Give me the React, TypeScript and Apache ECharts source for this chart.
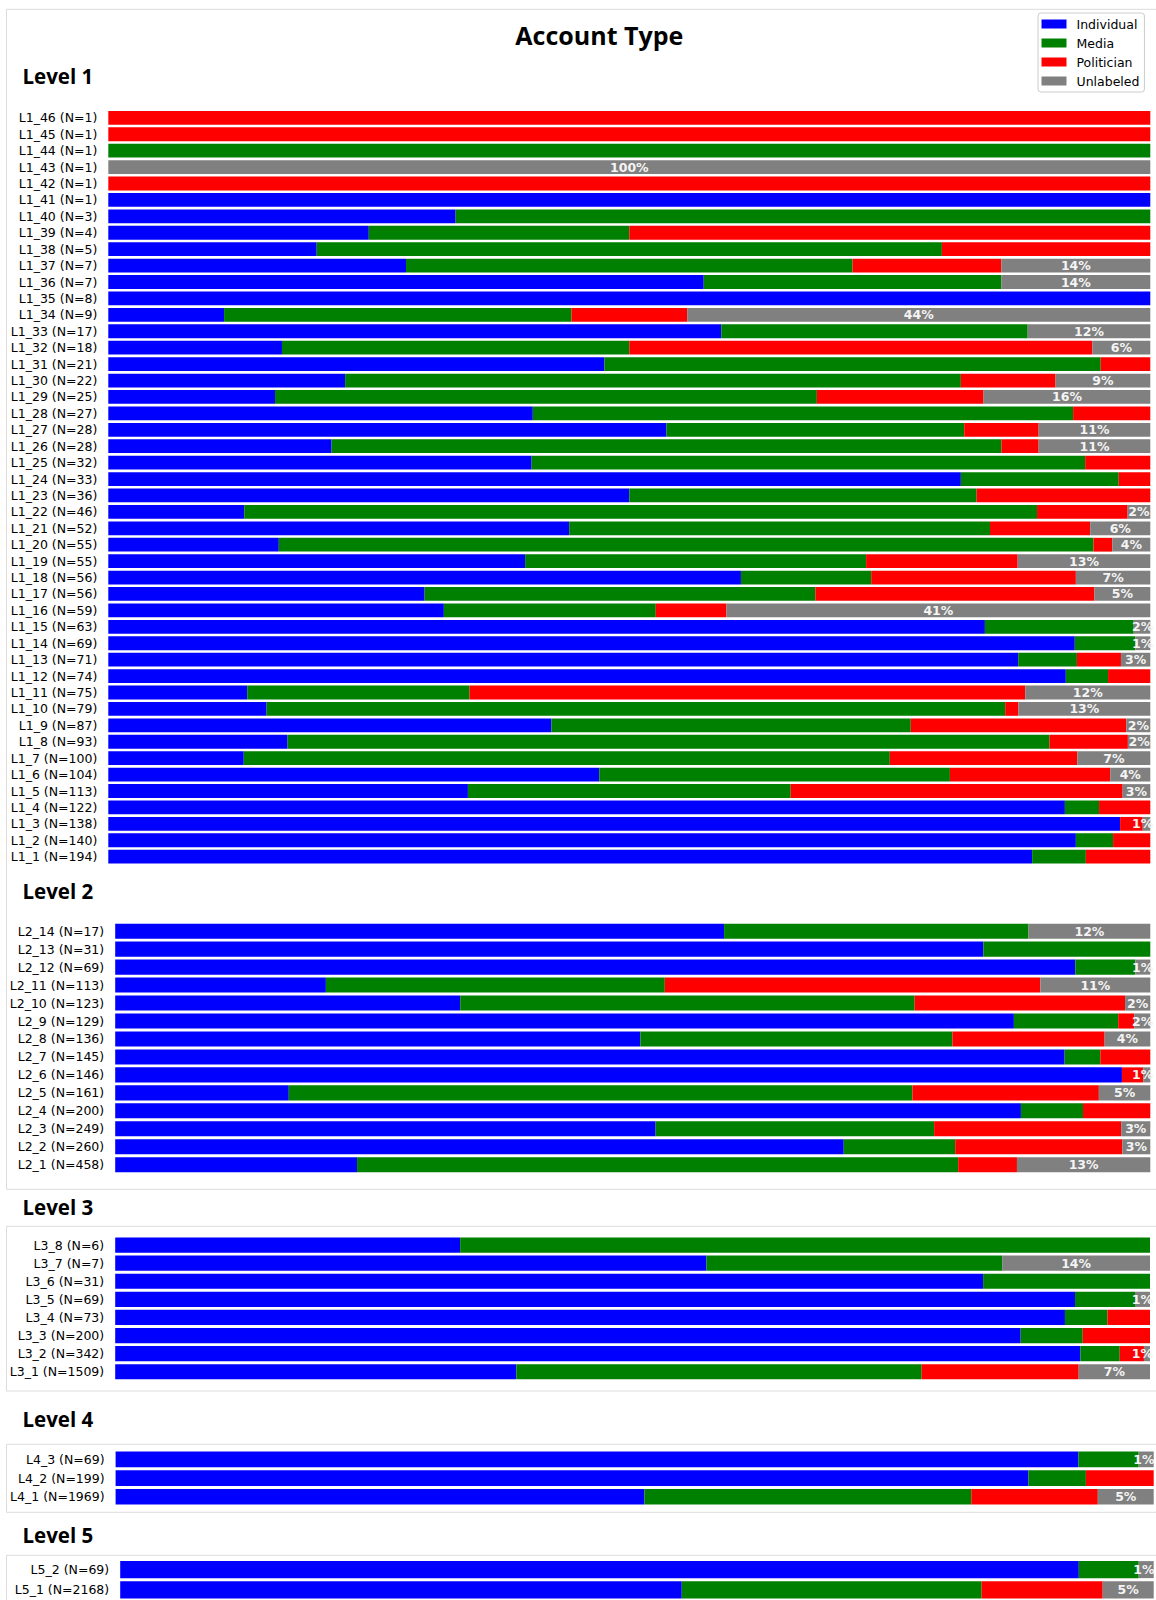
import React, { useEffect, useRef } from "react";
import * as echarts from "echarts";

const SERIES_NAMES = ["Individual", "Media", "Politician", "Unlabeled"];
const SERIES_COLORS = ["#0000ff", "#008000", "#ff0000", "#808080"];
const LEVEL_TITLES = ["Level 1", "Level 2", "Level 3", "Level 4", "Level 5"];

// ---------- Level 1 (top to bottom) ----------
const L1_GROUPS = ["L1_46","L1_45","L1_44","L1_43","L1_42","L1_41","L1_40","L1_39","L1_38","L1_37","L1_36","L1_35","L1_34","L1_33","L1_32","L1_31","L1_30","L1_29","L1_28","L1_27","L1_26","L1_25","L1_24","L1_23","L1_22","L1_21","L1_20","L1_19","L1_18","L1_17","L1_16","L1_15","L1_14","L1_13","L1_12","L1_11","L1_10","L1_9","L1_8","L1_7","L1_6","L1_5","L1_4","L1_3","L1_2","L1_1"];
const L1_N = [1,1,1,1,1,1,3,4,5,7,7,8,9,17,18,21,22,25,27,28,28,32,33,36,46,52,55,55,56,56,59,63,69,71,74,75,79,87,93,100,104,113,122,138,140,194];
const L1_INDIVIDUAL = [0,0,0,0,0,1,1,1,1,2,4,8,1,10,3,10,5,4,11,15,6,13,27,18,6,23,9,22,34,17,19,53,64,62,68,10,12,37,16,13,49,39,112,134,130,172];
const L1_MEDIA = [0,0,1,0,0,0,2,1,3,3,2,0,3,5,6,10,13,13,14,8,18,17,5,12,35,21,43,18,7,21,12,9,4,4,3,16,56,30,68,62,35,35,4,0,5,10];
const L1_POLITICIAN = [1,1,0,0,1,0,0,2,1,1,0,0,1,0,8,1,2,4,2,2,1,2,1,6,4,5,1,8,11,15,4,0,0,3,3,40,1,18,7,18,16,36,6,3,5,12];
const L1_UNLABELED = [0,0,0,1,0,0,0,0,0,1,1,0,4,2,1,0,2,4,0,3,3,0,0,0,1,3,2,7,4,3,24,1,1,2,0,9,10,2,2,7,4,3,0,1,0,0];

// ---------- Level 2 ----------
const L2_GROUPS = ["L2_14","L2_13","L2_12","L2_11","L2_10","L2_9","L2_8","L2_7","L2_6","L2_5","L2_4","L2_3","L2_2","L2_1"];
const L2_N = [17,31,69,113,123,129,136,145,146,161,200,249,260,458];
const L2_INDIVIDUAL = [10,26,64,23,41,112,69,133,142,27,175,130,183,107];
const L2_MEDIA = [5,5,4,37,54,13,41,5,0,97,12,67,28,266];
const L2_POLITICIAN = [0,0,0,41,25,2,20,7,3,29,13,45,42,26];
const L2_UNLABELED = [2,0,1,12,3,2,6,0,1,8,0,7,7,59];

// ---------- Level 3 ----------
const L3_GROUPS = ["L3_8","L3_7","L3_6","L3_5","L3_4","L3_3","L3_2","L3_1"];
const L3_N = [6,7,31,69,73,200,342,1509];
const L3_INDIVIDUAL = [2,4,26,64,67,175,319,585];
const L3_MEDIA = [4,2,5,4,3,12,13,591];
const L3_POLITICIAN = [0,0,0,0,3,13,8,229];
const L3_UNLABELED = [0,1,0,1,0,0,2,104];

// ---------- Level 4 ----------
const L4_GROUPS = ["L4_3","L4_2","L4_1"];
const L4_N = [69,199,1969];
const L4_INDIVIDUAL = [64,175,1003];
const L4_MEDIA = [4,11,620];
const L4_POLITICIAN = [0,13,240];
const L4_UNLABELED = [1,0,106];

// ---------- Level 5 ----------
const L5_GROUPS = ["L5_2","L5_1"];
const L5_N = [69,2168];
const L5_INDIVIDUAL = [64,1178];
const L5_MEDIA = [4,629];
const L5_POLITICIAN = [0,254];
const L5_UNLABELED = [1,107];

const LEVELS = [
  { groups: L1_GROUPS, n: L1_N, parts: [L1_INDIVIDUAL, L1_MEDIA, L1_POLITICIAN, L1_UNLABELED] },
  { groups: L2_GROUPS, n: L2_N, parts: [L2_INDIVIDUAL, L2_MEDIA, L2_POLITICIAN, L2_UNLABELED] },
  { groups: L3_GROUPS, n: L3_N, parts: [L3_INDIVIDUAL, L3_MEDIA, L3_POLITICIAN, L3_UNLABELED] },
  { groups: L4_GROUPS, n: L4_N, parts: [L4_INDIVIDUAL, L4_MEDIA, L4_POLITICIAN, L4_UNLABELED] },
  { groups: L5_GROUPS, n: L5_N, parts: [L5_INDIVIDUAL, L5_MEDIA, L5_POLITICIAN, L5_UNLABELED] },
];

// layout (pixels)
const CANVAS_W = 1156;
const GRID_LAYOUT = [
  { left: 108.3, top: 109.6, width: 1042, height: 755.3 },
  { left: 115.2, top: 922.2, width: 1035.1, height: 251.5 },
  { left: 115.2, top: 1236, width: 1034.8, height: 144.8 },
  { left: 115.6, top: 1450, width: 1038.1, height: 56.1 },
  { left: 120.2, top: 1559.5, width: 1033.5, height: 40.6 },
];
const HEADING_Y = [76, 891, 1207, 1419, 1535];
const PANEL_BOXES = [
  { y: 9.3, h: 1180 },
  { y: 1226.3, h: 164.7 },
  { y: 1444.3, h: 68 },
  { y: 1555.3, h: 80 },
];

const LABEL_FONT = "DejaVu Sans";
const HEAD_FONT = "Open Sans";

export default function App() {
  const ref = useRef<HTMLDivElement>(null);
  useEffect(() => {
    document.body.style.margin = "0";
    if (!ref.current) return;
    const chart = echarts.init(ref.current, null, { renderer: "svg" });

    const grid: any[] = [];
    const xAxis: any[] = [];
    const yAxis: any[] = [];
    const series: any[] = [];

    LEVELS.forEach((lvl, i) => {
      const g = GRID_LAYOUT[i];
      grid.push({ ...g, containLabel: false });
      xAxis.push({ type: "value", gridIndex: i, min: 0, max: 100, show: false });
      yAxis.push({
        type: "category",
        gridIndex: i,
        inverse: true,
        data: lvl.groups.map((gr, j) => `${gr} (N=${lvl.n[j]})`),
        axisLine: { show: false },
        axisTick: { show: false },
        splitLine: { show: false },
        axisLabel: { interval: 0, fontSize: 12.5, fontFamily: LABEL_FONT, color: "#000", margin: 11 },
      });
      const rightEdge = g.left + g.width;
      const outDist = -Math.max(0, Math.min(3, CANVAS_W - 1.5 - rightEdge));
      lvl.parts.forEach((arr, k) => {
        const isUnl = k === 3;
        series.push({
          type: "bar",
          name: SERIES_NAMES[k],
          stack: "level" + i,
          xAxisIndex: i,
          yAxisIndex: i,
          barWidth: "84%",
          itemStyle: { color: SERIES_COLORS[k] },
          emphasis: { disabled: true },
          data: arr.map((c, j) => {
            const pct = (c / lvl.n[j]) * 100;
            const segPx = (pct / 100) * g.width;
            if (isUnl && pct > 0 && segPx < 19) {
              return { value: pct, label: { position: "insideRight", distance: outDist } };
            }
            return pct;
          }),
          label: isUnl
            ? {
                show: true,
                position: "inside",
                formatter: (p: any) => (p.value > 0 ? Math.round(p.value) + "%" : ""),
                color: "#f4f4f4",
                fontWeight: "bold",
                fontSize: 12.5,
                fontFamily: LABEL_FONT,
              }
            : { show: false },
        });
      });
    });

    const graphic: any[] = [];
    PANEL_BOXES.forEach((b) => {
      graphic.push({
        type: "rect",
        silent: true,
        z: 0,
        shape: { x: 6.5, y: b.y, width: 1170, height: b.h },
        style: { fill: "none", stroke: "#dcdcdc", lineWidth: 1 },
      });
    });
    graphic.push({
      type: "text",
      x: 599.3,
      y: 34.5,
      style: {
        text: "Account Type",
        fontFamily: HEAD_FONT,
        fontWeight: "bold",
        fontSize: 25,
        fill: "#000",
        align: "center",
        verticalAlign: "middle",
      },
    });
    LEVEL_TITLES.forEach((t, i) => {
      graphic.push({
        type: "text",
        x: 22.5,
        y: HEADING_Y[i],
        style: {
          text: t,
          fontFamily: HEAD_FONT,
          fontWeight: "bold",
          fontSize: 20.5,
          fill: "#000",
          align: "left",
          verticalAlign: "middle",
        },
      });
    });

    chart.setOption({
      animation: false,
      backgroundColor: "#ffffff",
      legend: {
        data: SERIES_NAMES,
        orient: "vertical",
        left: 1038,
        top: 13,
        itemWidth: 25,
        itemHeight: 9,
        itemGap: 6,
        icon: "rect",
        selectedMode: false,
        padding: [4.5, 5, 4.5, 3.5],
        borderColor: "#cccccc",
        borderWidth: 1,
        borderRadius: 3,
        backgroundColor: "rgba(255,255,255,0.8)",
        textStyle: { fontSize: 12.5, fontFamily: LABEL_FONT, color: "#000", padding: [0, 0, 0, 5] },
      },
      grid,
      xAxis,
      yAxis,
      series,
      graphic,
    });
    return () => chart.dispose();
  }, []);
  return <div ref={ref} style={{ width: 1156, height: 1600 }} />;
}
